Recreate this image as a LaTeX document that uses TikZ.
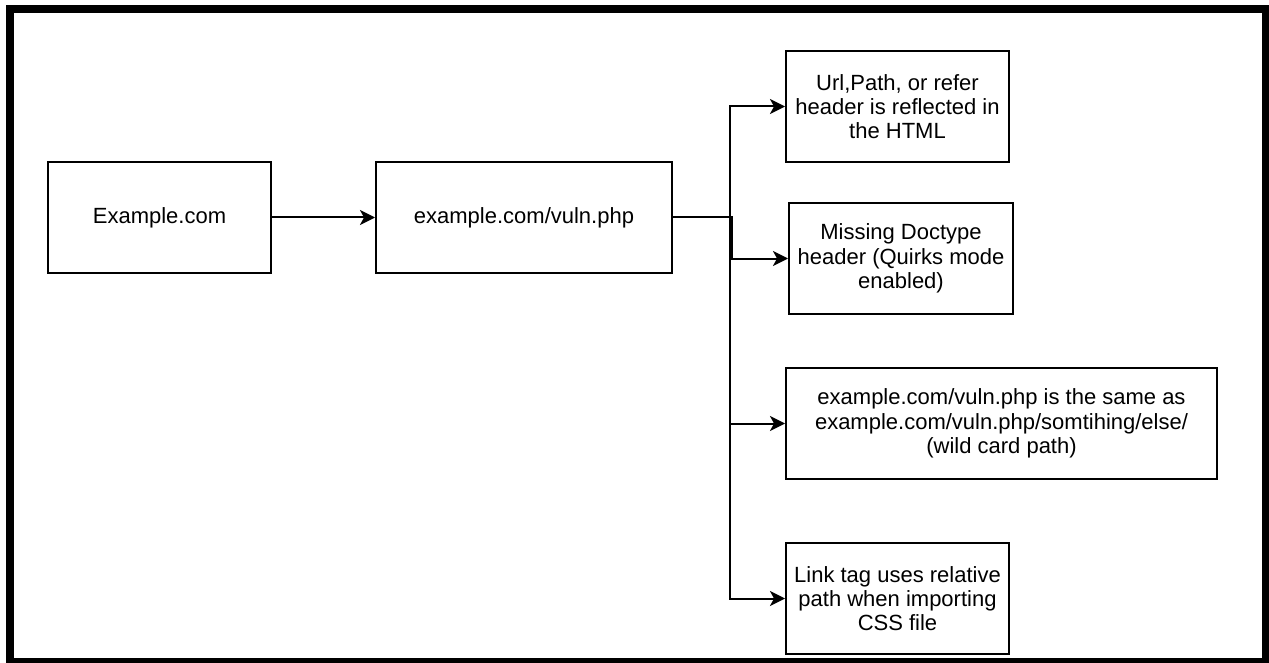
\documentclass[tikz,border=0pt]{standalone}
\usepackage{fontspec}
\setmainfont{Liberation Sans}
\usetikzlibrary{arrows.meta}
\tikzset{
  box/.style={draw=black, line width=2pt, fill=white, align=center, inner sep=0pt,
    font=\fontsize{22}{24.3}\selectfont},
  conn/.style={line width=2pt, -{Stealth[length=15pt,width=15pt,inset=4pt]}},
}
\begin{document}
\begin{tikzpicture}[x=1pt,y=-1pt]
\useasboundingbox (0,0) rectangle (1269,663);
\draw[line width=8pt] (10,9) rectangle (1265.5,662);
\node[box, minimum width=223pt, minimum height=111pt] (ex) at (159.5,217.5) {Example.com};
\node[box, minimum width=296pt, minimum height=111pt] (vuln) at (524,217.5) {example.com/vuln.php};
\node[box, minimum width=223pt, minimum height=111pt] (b1) at (897.5,106.5) {Url,Path, or refer\\header is reflected in\\the HTML};
\node[box, minimum width=224pt, minimum height=111pt] (b2) at (901,258.5) {Missing Doctype\\header (Quirks mode\\enabled)};
\node[box, minimum width=431pt, minimum height=111pt] (b3) at (1001.5,423.5) {example.com/vuln.php is the same as\\example.com/vuln.php/somtihing/else/\\(wild card path)};
\node[box, minimum width=223pt, minimum height=111pt] (b4) at (897.5,598.5) {Link tag uses relative\\path when importing\\CSS file};
\draw[conn] (ex) -- (vuln);
\draw[conn] (vuln.east) -- ++(57,0) |- (b1.west);
\draw[conn] (vuln.east) -- ++(59,0) |- (b2.west);
\draw[conn] (vuln.east) -- ++(57,0) |- (b3.west);
\draw[conn] (vuln.east) -- ++(57,0) |- (b4.west);
\end{tikzpicture}
\end{document}
